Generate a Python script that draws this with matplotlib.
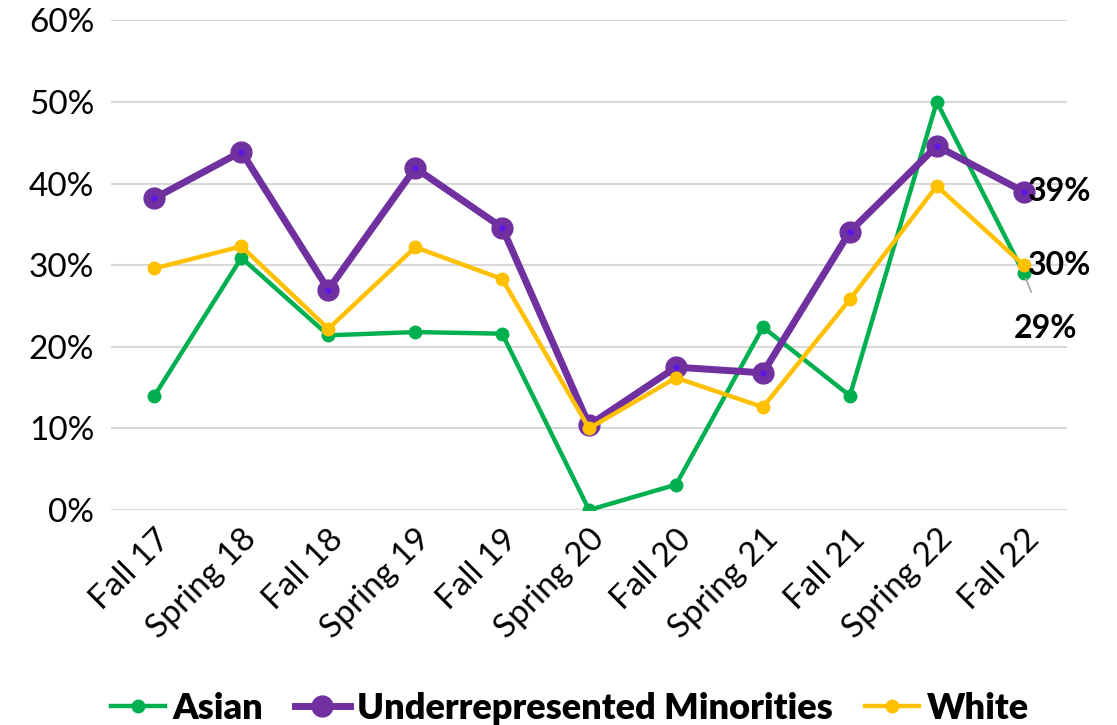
import matplotlib.pyplot as plt
from matplotlib.ticker import FuncFormatter

terms = ["Fall 17", "Spring 18", "Fall 18", "Spring 19", "Fall 19", "Spring 20",
         "Fall 20", "Spring 21", "Fall 21", "Spring 22", "Fall 22"]
asian = [14.0, 30.9, 21.4, 21.8, 21.6, 0.0, 3.1, 22.4, 14.0, 50.0, 29.0]
urm = [38.2, 43.9, 27.0, 41.9, 34.6, 10.4, 17.5, 16.8, 34.1, 44.6, 39.0]
white = [29.6, 32.3, 22.2, 32.2, 28.3, 10.0, 16.2, 12.6, 25.8, 39.7, 30.0]

GREEN = "#00B050"
PURPLE = "#7030A0"
GOLD = "#FFC000"
FONT = ["Lato", "DejaVu Sans"]

plt.rcParams["font.family"] = FONT

fig = plt.figure(figsize=(11.17, 7.25), dpi=100)
ax = fig.add_axes([0.0994, 0.2966, 0.856, 0.6754])

x = list(range(len(terms)))
ax.plot(x, asian, color=GREEN, lw=3.2, marker="o", ms=9, label="Asian", zorder=3)
ax.plot(x, urm, color=PURPLE, lw=5, marker="o", ms=15,
        label="Underrepresented Minorities", zorder=4)
ax.plot(x, urm, ls="none", marker="o", ms=3.5, color="#5B17E8", zorder=5)
ax.plot(x, white, color=GOLD, lw=3.2, marker="o", ms=9, label="White", zorder=6)

ax.set_xlim(-0.5, 10.5)
ax.set_ylim(0, 60)
ax.set_yticks(range(0, 61, 10))
ax.yaxis.set_major_formatter(FuncFormatter(lambda v, p: f"{v:.0f}%"))
ax.set_xticks(x)
ax.set_xticklabels(terms, rotation=45, ha="right", rotation_mode="anchor")
ax.tick_params(length=0, labelsize=24, colors="black", pad=12)
ax.tick_params(axis="x", pad=10)
ax.grid(axis="y", color="#D9D9D9", lw=1.5)
ax.set_axisbelow(True)
for s in ax.spines.values():
    s.set_visible(False)

# end-of-series labels
last = len(terms) - 1
ax.annotate(f"{urm[last]:.0f}%", (last, urm[last]), xytext=(3, 0),
            textcoords="offset points", va="center", ha="left",
            fontsize=23, fontweight="bold", zorder=7)
ax.annotate(f"{white[last]:.0f}%", (last, white[last]), xytext=(3, 0),
            textcoords="offset points", va="center", ha="left",
            fontsize=23, fontweight="bold", zorder=7)
ax.annotate(f"{asian[last]:.0f}%", (last, asian[last]), xytext=(16, -40),
            textcoords="offset points", va="center", ha="center",
            fontsize=23, fontweight="bold", zorder=7,
            arrowprops=dict(arrowstyle="-", color="#A6A6A6", lw=1.2,
                            shrinkA=15, shrinkB=4))

leg = fig.legend(loc="lower center", ncol=3, frameon=False,
                 bbox_to_anchor=(0.51, -0.045), handlelength=1.5,
                 handletextpad=0.2, columnspacing=0.9,
                 prop={"family": FONT, "weight": "heavy", "size": 26})

fig.savefig("out.png", dpi=100)
